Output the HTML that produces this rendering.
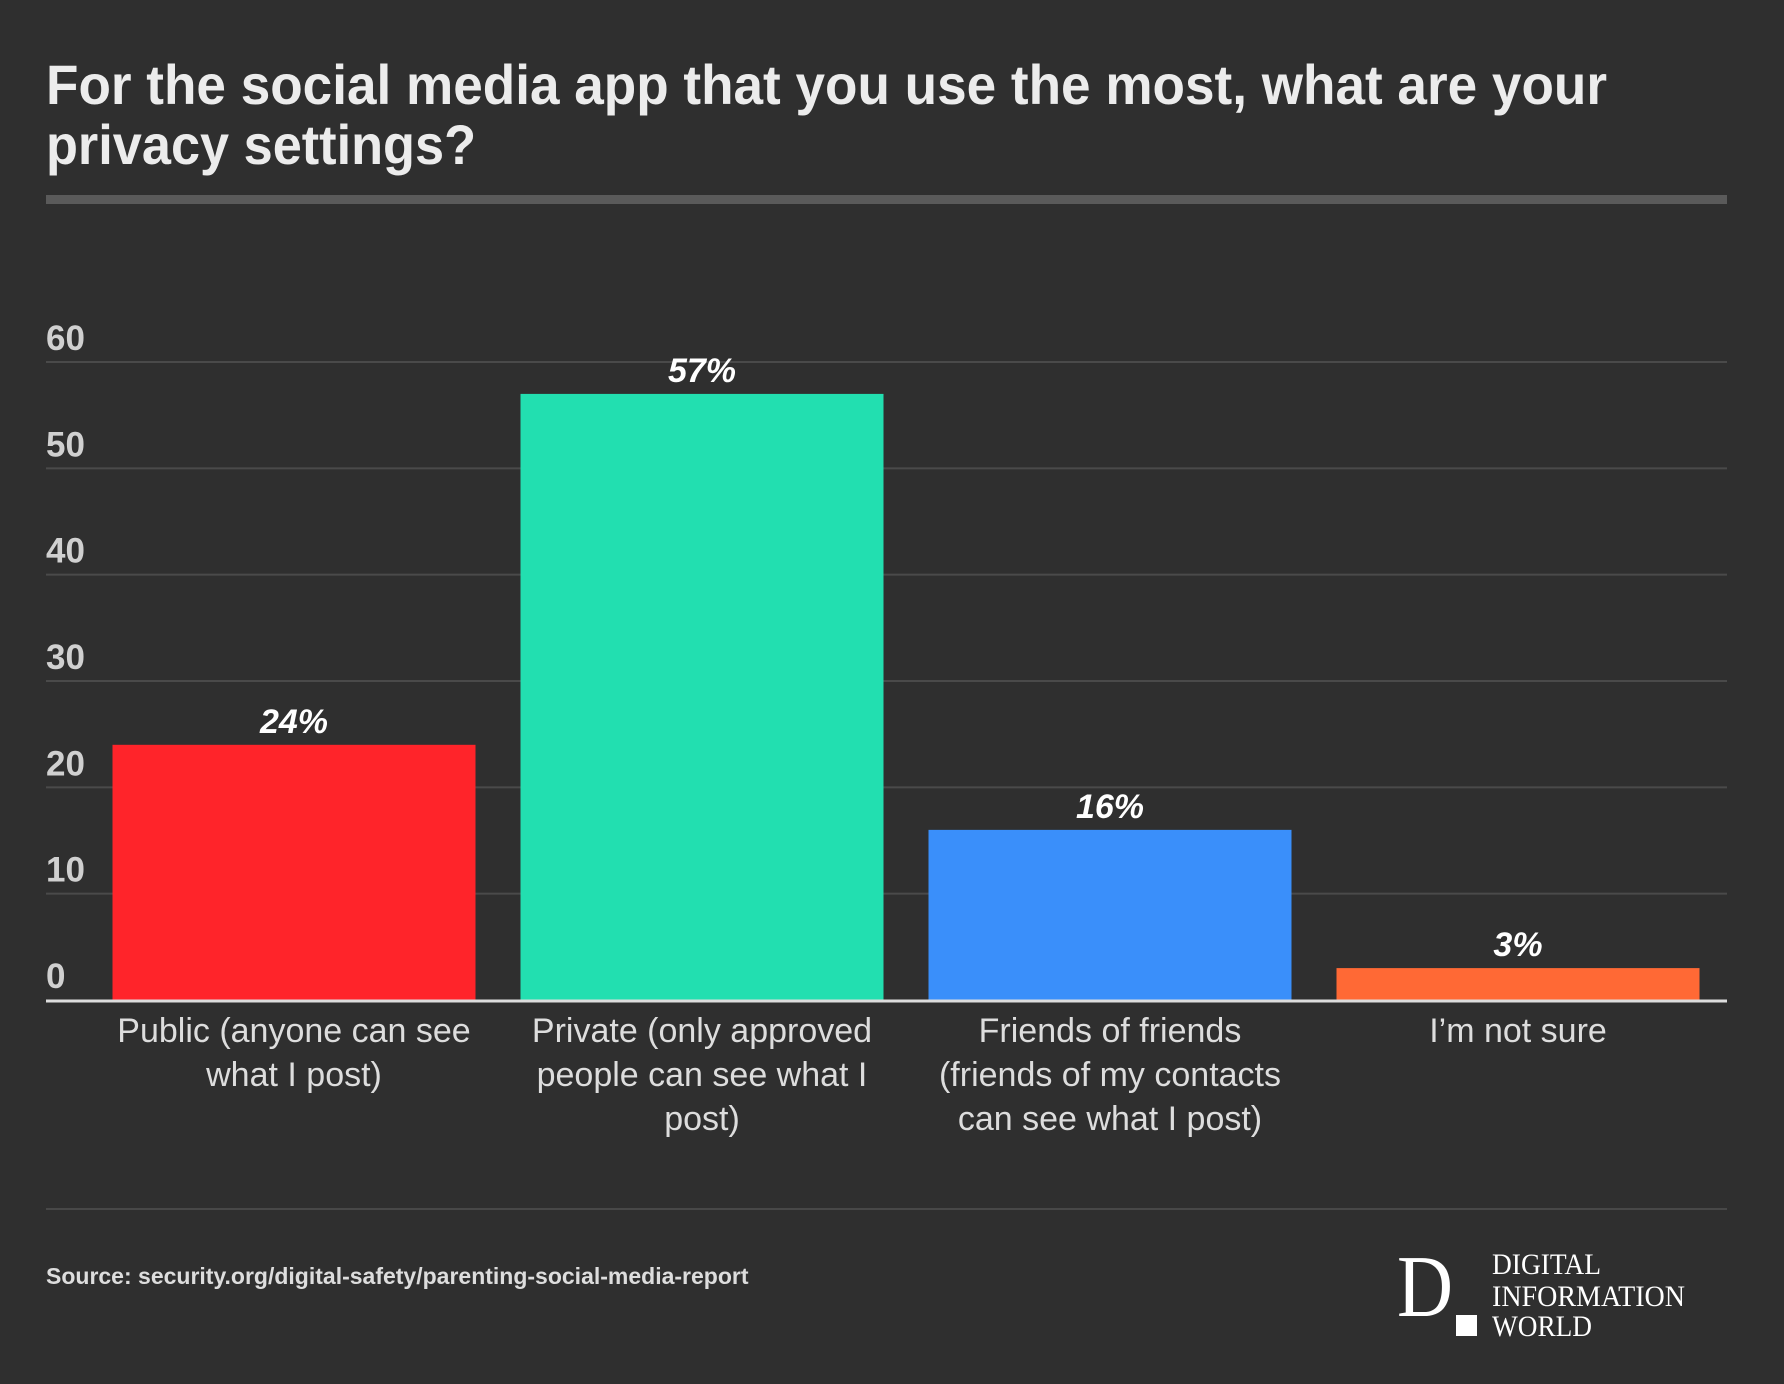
<!DOCTYPE html>
<html><head><meta charset="utf-8"><style>
html,body{margin:0;padding:0;background:#2f2f2f;}
svg{display:block;font-family:"Liberation Sans",Arial,sans-serif;}
</style></head><body>
<svg id="chart" width="1784" height="1384" viewBox="0 0 1784 1384">
<rect width="1784" height="1384" fill="#2f2f2f"/>
<g font-weight="bold" font-size="56" fill="#ececec">
<text x="46" y="104" textLength="1561" lengthAdjust="spacingAndGlyphs">For the social media app that you use the most, what are your</text>
<text x="46" y="164" textLength="430" lengthAdjust="spacingAndGlyphs">privacy settings?</text>
</g>
<rect x="46" y="195" width="1681" height="9" fill="#5a5a5a"/>
<g id="grid"></g>
<g id="bars"></g>
<g id="xl"></g>
<line x1="46" y1="1209" x2="1727" y2="1209" stroke="#484848" stroke-width="2"/>
<text x="46" y="1284" font-size="23" font-weight="bold" fill="#dddddd">Source: security.org/digital-safety/parenting-social-media-report</text>
<g font-family="'Liberation Serif',serif" fill="#ffffff">
<text x="1397" y="1316" font-size="88" textLength="56" lengthAdjust="spacingAndGlyphs">D</text>
<rect x="1456" y="1315" width="21" height="21" fill="#ffffff"/>
<text x="1492" y="1274" font-size="30" textLength="109" lengthAdjust="spacingAndGlyphs">DIGITAL</text>
<text x="1492" y="1306" font-size="30" textLength="193" lengthAdjust="spacingAndGlyphs">INFORMATION</text>
<text x="1492" y="1336" font-size="30" textLength="100" lengthAdjust="spacingAndGlyphs">WORLD</text>
</g>
</svg>
<script>
const categories = [["Public (anyone can see","what I post)"],["Private (only approved","people can see what I","post)"],["Friends of friends","(friends of my contacts","can see what I post)"],["I\u2019m not sure"]];
const values = [24, 57, 16, 3];
const valueLabels = ["24%", "57%", "16%", "3%"];
const colors = ["#ff242a", "#22dfb0", "#3a8ffa", "#ff6935"];
const yTicks = [0, 10, 20, 30, 40, 50, 60];

const NS = "http://www.w3.org/2000/svg";
const X0 = 46, X1 = 1727, Y0 = 1000, Y60 = 362;
const y = v => Y0 - (v / 60) * (Y0 - Y60);
const band = 408;
const xc = i => 294 + band * i;
function mk(tag, attrs, parent) { const e = document.createElementNS(NS, tag); for (const k in attrs) e.setAttribute(k, attrs[k]); parent.appendChild(e); return e; }
const grid = document.getElementById('grid');
yTicks.forEach(t => {
  if (t > 0) {
    const l = mk('line', {x1: X0, x2: X1, y1: y(t), y2: y(t), stroke: '#4a4a4a', 'stroke-width': 2}, grid);
    
    
  }
  const tx = mk('text', {x: 46, y: y(t) - 12, 'font-size': 35, fill: '#d0d0d0', 'font-weight': 'bold'}, grid);
  tx.textContent = t;
  
  
});
const bars = document.getElementById('bars');
const bw = 363;
values.forEach((v, i) => {
  const r = mk('rect', {x: xc(i) - bw / 2, y: y(v), width: bw, height: Y0 - y(v), fill: colors[i]}, bars);
  
  
  const t = mk('text', {x: xc(i), y: y(v) - 12, 'font-size': 34, 'font-weight': 'bold', 'font-style': 'italic', fill: '#ffffff', 'text-anchor': 'middle'}, bars);
  t.textContent = valueLabels[i];
  
  
});
const base = mk('line', {x1: X0, x2: X1, y1: Y0 + 1, y2: Y0 + 1, stroke: '#dddddd', 'stroke-width': 3}, bars);


const xl = document.getElementById('xl');
categories.forEach((lines, i) => {
  lines.forEach((s, j) => {
    const t = mk('text', {x: xc(i), y: 1042 + j * 44, 'font-size': 34, fill: '#dddddd', 'text-anchor': 'middle'}, xl);
    t.textContent = s;
    
    
  });
});
</script>
</body></html>
